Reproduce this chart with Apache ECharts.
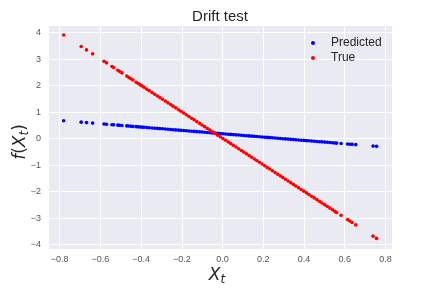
<!DOCTYPE html>
<html>
<head>
<meta charset="utf-8">
<script src="https://cdn.jsdelivr.net/npm/echarts@6/dist/echarts.min.js"></script>
<style>html,body{margin:0;padding:0;background:#fff}#c{width:423px;height:291px}</style>
</head>
<body>
<div id="c"></div>
<script>
// Shared input values X_t
const xVals = [-0.780, -0.694, -0.668, -0.638, -0.582, -0.570, -0.543, -0.535, -0.514, -0.506, -0.494, -0.470, -0.460, -0.450, -0.440, -0.424, -0.414, -0.404, -0.395,
 -0.385, -0.372, -0.360, -0.346, -0.333, -0.320, -0.308, -0.295, -0.281, -0.268, -0.255, -0.243, -0.230, -0.216, -0.204, -0.191, -0.178, -0.165, -0.152, -0.140,
 -0.127, -0.113, -0.101, -0.088, -0.075, -0.062, -0.050, -0.037, -0.024, -0.011, 0.002, 0.015, 0.028, 0.040, 0.053, 0.066, 0.079, 0.092, 0.104, 0.117,
 0.130, 0.143, 0.156, 0.168, 0.181, 0.194, 0.207, 0.220, 0.232, 0.245, 0.258, 0.271, 0.284, 0.296, 0.309, 0.322, 0.335, 0.348, 0.360, 0.373,
 0.386, 0.399, 0.412, 0.424, 0.437, 0.450, 0.463, 0.476, 0.488, 0.501, 0.514, 0.527, 0.540, 0.552, 0.560,
 0.582, 0.614, 0.625, 0.636, 0.654, 0.739, 0.756];
// Predicted f(X_t)
const predicted = [0.674, 0.620, 0.604, 0.585, 0.550, 0.542, 0.525, 0.520, 0.507, 0.502, 0.494, 0.479, 0.473, 0.467, 0.460, 0.450, 0.444, 0.438, 0.432,
 0.426, 0.417, 0.410, 0.401, 0.393, 0.385, 0.377, 0.369, 0.360, 0.352, 0.344, 0.336, 0.328, 0.319, 0.312, 0.303, 0.295, 0.287, 0.279, 0.271,
 0.263, 0.254, 0.247, 0.238, 0.230, 0.222, 0.215, 0.206, 0.198, 0.190, 0.182, 0.174, 0.165, 0.158, 0.150, 0.141, 0.133, 0.125, 0.117, 0.109,
 0.101, 0.093, 0.085, 0.077, 0.069, 0.061, 0.053, 0.044, 0.037, 0.029, 0.020, 0.012, 0.004, -0.004, -0.012, -0.020, -0.028, -0.036, -0.044, -0.052,
 -0.060, -0.068, -0.077, -0.084, -0.092, -0.101, -0.109, -0.117, -0.124, -0.133, -0.141, -0.149, -0.157, -0.165, -0.170,
 -0.184, -0.204, -0.211, -0.218, -0.229, -0.283, -0.293];
// True f(X_t)
const trueVals = [3.910, 3.480, 3.350, 3.200, 2.920, 2.860, 2.725, 2.685, 2.580, 2.540, 2.480, 2.360, 2.310, 2.260, 2.210, 2.130, 2.080, 2.030, 1.985,
 1.935, 1.870, 1.810, 1.740, 1.675, 1.610, 1.550, 1.485, 1.415, 1.350, 1.285, 1.225, 1.160, 1.090, 1.030, 0.965, 0.900, 0.835, 0.770, 0.710,
 0.645, 0.575, 0.515, 0.450, 0.385, 0.320, 0.260, 0.195, 0.130, 0.065, 0.000, -0.065, -0.130, -0.190, -0.255, -0.320, -0.385, -0.450, -0.510, -0.575,
 -0.640, -0.705, -0.770, -0.830, -0.895, -0.960, -1.025, -1.090, -1.150, -1.215, -1.280, -1.345, -1.410, -1.470, -1.535, -1.600, -1.665, -1.730, -1.790, -1.855,
 -1.920, -1.985, -2.050, -2.110, -2.175, -2.240, -2.305, -2.370, -2.430, -2.495, -2.560, -2.625, -2.690, -2.750, -2.790,
 -2.900, -3.060, -3.115, -3.170, -3.260, -3.685, -3.770];

const seriesNames = ['Predicted', 'True'];
const titleText = 'Drift test';

const chart = echarts.init(document.getElementById('c'), null, {renderer: 'canvas'});
const minus = v => String(v).replace('-', '\u2212');
const mathRich = {
  i: {fontFamily: 'DejaVu Sans', fontStyle: 'italic', fontSize: 17, color: '#262626'},
  r: {fontFamily: 'DejaVu Sans', fontSize: 17, color: '#262626'},
  s: {fontFamily: 'DejaVu Sans', fontStyle: 'italic', fontSize: 12, color: '#262626', padding: [8, 0, 0, 0]}
};
chart.setOption({
  animation: false,
  backgroundColor: '#ffffff',
  title: {
    text: titleText, left: 215, top: 4, textAlign: 'center',
    textStyle: {fontFamily: 'Liberation Sans', fontSize: 15, fontWeight: 'normal', color: '#262626'}
  },
  legend: {
    data: seriesNames, orient: 'vertical', left: 306, top: 32, itemGap: 3,
    icon: 'circle', itemWidth: 4, itemHeight: 4,
    textStyle: {fontFamily: 'Liberation Sans', fontSize: 12, color: '#262626', padding: [0, 0, 0, 11]}
  },
  grid: {left: 48, right: 31, top: 25, bottom: 35, show: true, backgroundColor: '#EAEAF2', borderWidth: 0},
  xAxis: {
    type: 'value', min: -0.857, max: 0.832, splitNumber: 8,
    name: '{i|X}{s|t}', nameLocation: 'middle', nameGap: 17, nameMoveOverlap: false,
    nameTextStyle: {rich: mathRich, padding: [0, 6, 0, 0]},
    axisLine: {show: false}, axisTick: {show: false},
    axisLabel: {showMinLabel: false, showMaxLabel: false, fontFamily: 'Liberation Sans', fontSize: 9, color: '#555', margin: 6,
      formatter: v => minus(v.toFixed(1))},
    splitLine: {lineStyle: {color: '#ffffff', width: 1}}
  },
  yAxis: {
    type: 'value', min: -4.17, max: 4.29, splitNumber: 8,
    name: '{i|f}{r|(}{i|X}{s|t}{r|)}', nameLocation: 'middle', nameGap: 17, nameRotate: 90, nameMoveOverlap: false,
    nameTextStyle: {rich: mathRich, padding: [0, 10, 0, 0]},
    axisLine: {show: false}, axisTick: {show: false},
    axisLabel: {showMinLabel: false, showMaxLabel: false, fontFamily: 'Liberation Sans', fontSize: 9, color: '#555', margin: 7,
      formatter: v => minus(v.toFixed(0))},
    splitLine: {lineStyle: {color: '#ffffff', width: 1}}
  },
  series: [
    {name: seriesNames[0], type: 'scatter', symbol: 'circle', symbolSize: 3.6,
     itemStyle: {color: '#0000ff', opacity: 1}, data: xVals.map((x, i) => [x, predicted[i]])},
    {name: seriesNames[1], type: 'scatter', symbol: 'circle', symbolSize: 3.6,
     itemStyle: {color: '#ff0000', opacity: 1}, data: xVals.map((x, i) => [x, trueVals[i]])}
  ]
});
</script>
</body>
</html>
